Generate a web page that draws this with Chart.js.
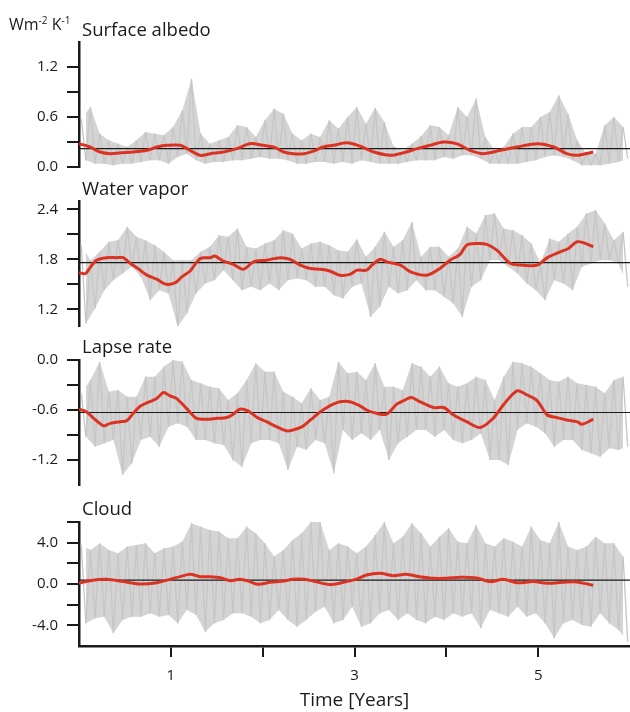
<!DOCTYPE html>
<html>
<head>
<meta charset="utf-8">
<script src="https://cdn.jsdelivr.net/npm/chart.js@4.4.1/dist/chart.umd.min.js"></script>
<style>
  html, body { margin: 0; padding: 0; background: #fff; }
  #wrap { position: relative; width: 630px; height: 712px; overflow: hidden; font-family: 'Open Sans', sans-serif; color: #1a1a1a; }
  #wrap canvas { position: absolute; left: 0; top: 0; }
  .ttl { position: absolute; left: 82px; font-size: 18.5px; line-height: 1; white-space: nowrap; }
  #unit { position: absolute; left: 9px; top: 16px; font-size: 16px; line-height: 1; white-space: nowrap; }
  #unit sup { font-size: 10px; line-height: 1; position: relative; top: -6px; vertical-align: baseline; }
</style>
</head>
<body>
<div id="wrap">
  <canvas id="c1" width="630" height="712"></canvas>
  <canvas id="c2" width="630" height="712"></canvas>
  <canvas id="c3" width="630" height="712"></canvas>
  <canvas id="c4" width="630" height="712"></canvas>
  <div id="unit">Wm<sup>-2</sup> K<sup>-1</sup></div>
  <div class="ttl" style="top:19.6px">Surface albedo</div>
  <div class="ttl" style="top:178.6px">Water vapor</div>
  <div class="ttl" style="top:336.6px">Lapse rate</div>
  <div class="ttl" style="top:498.6px">Cloud</div>
</div>
<script>
// x bins of the raw (grey) series, 0.1 year wide, 0 .. 5.9
const binT = Array.from({ length: 60 }, (_, i) => i / 10);

// Surface albedo
const albedoHi = [0.58,0.72,0.40,0.32,0.28,0.24,0.32,0.42,0.40,0.38, 0.48,0.68,1.06,0.40,0.28,0.32,0.36,0.50,0.48,0.36,
                  0.56,0.70,0.64,0.40,0.32,0.40,0.36,0.56,0.46,0.60, 0.72,0.52,0.71,0.54,0.25,0.20,0.28,0.37,0.50,0.48,
                  0.38,0.72,0.60,0.82,0.36,0.20,0.24,0.40,0.48,0.48, 0.60,0.66,0.86,0.64,0.32,0.16,0.16,0.50,0.60,0.48];
const albedoLo = [0.08,0.04,0.04,0.02,0.04,0.04,0.06,0.08,0.08,0.04, 0.12,0.16,0.08,0.04,0.06,0.06,0.08,0.08,0.10,0.12,
                  0.10,0.10,0.08,0.04,0.04,0.06,0.06,0.04,0.06,0.04, 0.08,0.06,0.04,0.04,0.04,0.06,0.08,0.08,0.08,0.12,
                  0.10,0.14,0.14,0.10,0.04,0.04,0.04,0.04,0.06,0.08, 0.12,0.14,0.12,0.08,0.02,0.02,0.02,0.04,0.06,0.10];
const albedoSmoothT = [0,0.12,0.23,0.34,0.45,0.59,0.74,0.85,0.96,1.10,1.21,1.32,1.43,1.57,1.72,1.86,2.01,2.12,2.23,2.33,2.45,
                       2.55,2.66,2.77,2.92,3.06,3.21,3.39,3.53,3.68,3.82,3.97,4.11,4.26,4.40,4.59,4.77,4.99,5.17,5.31,5.42,5.60];
const albedoSmooth = [0.28,0.24,0.18,0.16,0.17,0.18,0.20,0.24,0.26,0.26,0.20,0.14,0.16,0.18,0.22,0.28,0.26,0.24,0.18,0.16,0.16,
                      0.19,0.24,0.26,0.29,0.25,0.18,0.14,0.17,0.22,0.26,0.30,0.28,0.20,0.16,0.20,0.24,0.28,0.24,0.16,0.14,0.18];
const albedoMean = 0.22;

// Water vapor
const vaporHi = [1.97,1.79,1.89,2.01,2.03,2.19,2.07,2.03,1.97,1.89, 1.79,1.79,1.79,1.89,1.95,2.09,2.07,2.17,1.95,1.93,
                 1.99,2.03,2.15,2.11,1.93,1.99,2.01,1.97,1.91,1.89, 2.04,1.83,1.95,2.13,1.95,2.03,2.25,1.83,1.95,1.95,
                 1.83,1.93,2.19,2.11,2.33,2.35,2.17,2.15,2.09,1.99, 1.75,2.05,2.01,2.11,2.19,2.35,2.39,2.23,2.03,2.13];
const vaporLo = [1.03,1.21,1.43,1.55,1.63,1.71,1.59,1.31,1.43,1.39, 0.99,1.15,1.39,1.51,1.55,1.67,1.55,1.43,1.47,1.43,
                 1.51,1.43,1.55,1.57,1.55,1.47,1.47,1.37,1.33,1.47, 1.51,1.11,1.23,1.47,1.39,1.43,1.55,1.43,1.43,1.35,
                 1.27,1.11,1.47,1.55,1.79,1.79,1.71,1.63,1.51,1.43, 1.31,1.55,1.51,1.43,1.71,1.75,1.79,1.79,1.75,1.47];
const vaporSmoothT = [0,0.07,0.12,0.19,0.30,0.41,0.48,0.56,0.63,0.74,0.85,0.95,1.05,1.12,1.21,1.32,1.43,1.48,1.57,1.68,
                      1.79,1.90,2.04,2.19,2.30,2.41,2.52,2.63,2.73,2.84,2.95,3.03,3.13,3.19,3.28,3.35,3.50,3.61,3.79,3.93,
                      4.04,4.15,4.22,4.33,4.44,4.55,4.70,4.84,4.99,5.10,5.24,5.33,5.42,5.49,5.60];
const vaporSmooth = [1.64,1.63,1.70,1.79,1.82,1.82,1.82,1.75,1.70,1.61,1.56,1.50,1.52,1.59,1.66,1.81,1.82,1.84,1.78,1.74,
                     1.68,1.77,1.79,1.82,1.80,1.73,1.69,1.68,1.66,1.61,1.62,1.67,1.67,1.73,1.80,1.77,1.73,1.65,1.61,1.69,
                     1.79,1.86,1.97,1.99,1.98,1.91,1.75,1.73,1.73,1.82,1.89,1.93,2.01,2.00,1.95];
const vaporMean = 1.76;

// Lapse rate
const lapseHi = [-0.40,-0.24,-0.02,-0.38,-0.36,-0.44,-0.44,-0.20,-0.20,-0.08, 0.00,-0.02,-0.24,-0.28,-0.32,-0.34,-0.48,-0.40,-0.24,-0.04,
                 -0.14,-0.14,-0.38,-0.44,-0.52,-0.34,-0.48,-0.44,-0.02,-0.16, -0.14,-0.24,-0.04,-0.32,-0.32,-0.36,-0.04,-0.08,-0.20,-0.08,
                 -0.28,-0.32,-0.28,-0.20,-0.24,-0.48,-0.20,-0.02,-0.04,-0.08, -0.16,-0.24,-0.26,-0.20,-0.28,-0.30,-0.32,-0.40,-0.24,-0.20];
const lapseLo = [-0.92,-1.04,-1.00,-0.96,-1.38,-1.24,-0.96,-0.92,-1.04,-0.80, -0.76,-0.80,-0.96,-0.96,-1.00,-1.02,-1.20,-1.28,-1.00,-0.96,
                 -0.96,-1.00,-1.32,-1.04,-1.08,-0.96,-1.00,-1.36,-0.84,-0.96, -0.88,-0.96,-0.84,-1.20,-1.00,-0.92,-0.84,-0.84,-0.92,-0.84,
                 -0.96,-1.00,-0.96,-0.88,-1.20,-1.20,-1.26,-0.84,-0.76,-0.80, -0.88,-1.04,-0.96,-0.96,-1.08,-1.12,-1.16,-1.06,-1.08,-1.04];
const lapseSmoothT = [0,0.08,0.17,0.27,0.34,0.45,0.52,0.59,0.66,0.77,0.85,0.92,0.99,1.06,1.17,1.28,1.39,1.50,1.61,1.68,
                      1.75,1.84,1.94,2.04,2.15,2.26,2.33,2.43,2.53,2.63,2.70,2.77,2.84,2.95,3.06,3.13,3.24,3.35,3.46,3.53,
                      3.62,3.71,3.86,3.97,4.08,4.22,4.37,4.51,4.62,4.77,4.88,4.99,5.10,5.20,5.31,5.42,5.48,5.60];
const lapseSmooth = [-0.59,-0.62,-0.71,-0.79,-0.76,-0.74,-0.73,-0.64,-0.56,-0.50,-0.46,-0.39,-0.43,-0.46,-0.58,-0.70,-0.71,-0.70,-0.69,-0.65,
                     -0.59,-0.61,-0.69,-0.74,-0.80,-0.85,-0.84,-0.80,-0.71,-0.62,-0.57,-0.53,-0.50,-0.50,-0.55,-0.60,-0.64,-0.65,-0.53,-0.49,
                     -0.45,-0.50,-0.57,-0.57,-0.66,-0.74,-0.81,-0.70,-0.54,-0.37,-0.42,-0.49,-0.66,-0.69,-0.72,-0.74,-0.77,-0.71];
const lapseMean = -0.63;

// Cloud
const cloudHi = [3.78,3.29,3.94,3.29,2.97,3.62,3.78,3.94,2.97,3.45, 3.62,4.10,5.87,5.55,5.23,5.07,4.42,4.42,5.55,4.91,
                 3.94,2.65,3.29,4.26,4.91,6.00,6.00,3.29,3.94,3.62, 2.97,3.62,4.75,6.00,3.94,4.58,5.87,4.91,3.62,4.58,
                 5.39,4.10,3.94,5.71,3.94,3.62,4.42,4.10,3.62,5.55, 4.26,3.94,6.00,3.62,3.29,3.62,4.58,3.94,3.94,2.65];
const cloudLo = [-3.81,-3.32,-3.16,-4.77,-3.48,-3.16,-3.16,-2.84,-3.16,-3.00, -3.81,-2.52,-3.00,-4.61,-3.81,-3.48,-2.84,-2.84,-3.16,-3.81,
                 -3.48,-2.52,-3.48,-4.13,-3.48,-2.68,-2.19,-3.81,-3.48,-2.19, -4.13,-3.81,-2.84,-2.52,-3.48,-2.84,-3.48,-3.81,-3.16,-3.48,
                 -2.84,-3.16,-2.84,-4.29,-2.52,-2.84,-3.16,-2.19,-3.16,-2.84, -3.81,-5.26,-3.81,-3.48,-3.97,-4.13,-2.84,-3.81,-4.45,-5.58];
const cloudSmoothT = [0,0.12,0.30,0.48,0.66,0.85,0.99,1.10,1.21,1.32,1.43,1.54,1.65,1.75,1.86,1.95,2.08,2.23,2.33,2.45,
                      2.55,2.73,2.88,3.03,3.13,3.28,3.42,3.56,3.71,3.86,4.00,4.15,4.33,4.48,4.62,4.77,4.95,5.10,5.27,5.42,5.60];
const cloudSmooth = [0.07,0.32,0.45,0.23,0.00,0.13,0.45,0.71,0.94,0.71,0.71,0.61,0.32,0.45,0.23,-0.03,0.16,0.29,0.45,0.45,
                     0.29,-0.06,0.16,0.49,0.87,1.03,0.81,0.94,0.71,0.55,0.55,0.65,0.58,0.23,0.45,0.13,0.23,0.07,0.16,0.20,-0.13];
const cloudMean = 0.37;

// axis ticks
const albedoTicks = [0, 0.3, 0.6, 0.9, 1.2], albedoLabels = [0, 0.6, 1.2];
const vaporTicks = [1.2, 1.5, 1.8, 2.1, 2.4], vaporLabels = [1.2, 1.8, 2.4];
const lapseTicks = [-1.2, -0.9, -0.6, -0.3, 0], lapseLabels = [-1.2, -0.6, 0];
const cloudTicks = [-4, -2, 0, 2, 4, 6], cloudLabels = [-4, 0, 4];
const yearTicks = [1, 2, 3, 4, 5], yearLabels = [1, 3, 5];

const GREY = '#c6c6c6', GREY_FILL = '#d4d4d4', RED = '#dc3222', INK = '#1a1a1a';
Chart.defaults.font.family = "'Open Sans', sans-serif";
Chart.defaults.color = INK;

function noisePoints(hi, lo) {
  const pts = [];
  hi.forEach((h, i) => {
    pts.push({ x: binT[i] + 0.025, y: h });
    pts.push({ x: binT[i] + 0.075, y: lo[i] });
  });
  return pts;
}

function makePanel(id, p) {
  const last = !!p.last;
  const xScale = {
    type: 'linear', min: 0, max: 6, display: last,
    afterBuildTicks: s => { s.ticks = yearTicks.map(v => ({ value: v })); },
    grid: { drawOnChartArea: false, tickLength: 11, lineWidth: 2, color: INK },
    border: { color: INK, width: 2.5 },
    ticks: { padding: 10, font: { size: 15 }, color: INK, maxRotation: 0,
             callback: v => yearLabels.includes(v) ? String(v) : '' },
    title: { display: true, text: 'Time [Years]', font: { size: 19 }, color: INK, padding: { top: 0, bottom: 0 } }
  };
  if (last) xScale.afterFit = s => { s.height = 66; };

  new Chart(document.getElementById(id), {
    type: 'line',
    data: {
      datasets: [
        { data: p.smoothT.map((t, i) => ({ x: t, y: p.smooth[i] })), borderColor: RED, borderWidth: 3,
          pointRadius: 0, tension: 0.3, order: 0 },
        { data: [{ x: 0, y: p.mean }, { x: 6, y: p.mean }], borderColor: INK, borderWidth: 1.2,
          pointRadius: 0, order: 1 },
        { data: noisePoints(p.hi, p.lo), borderColor: GREY, borderWidth: 1.3, borderJoinStyle: 'bevel',
          pointRadius: 0, tension: 0, order: 2 },
        // envelope of the raw series, filled between upper and lower edges
        { data: p.hi.map((h, i) => ({ x: binT[i] + 0.025, y: h })), borderWidth: 0, pointRadius: 0,
          fill: '+1', backgroundColor: GREY_FILL, order: 3 },
        { data: p.lo.map((l, i) => ({ x: binT[i] + 0.075, y: l })), borderWidth: 0, pointRadius: 0,
          fill: false, order: 4 }
      ]
    },
    options: {
      responsive: false,
      animation: false,
      events: [],
      layout: { padding: { top: p.top, bottom: last ? 0 : 712 - p.bottom, left: 0, right: 0 } },
      plugins: { legend: { display: false }, tooltip: { enabled: false } },
      scales: {
        x: xScale,
        y: {
          min: p.min, max: p.max,
          afterBuildTicks: s => { s.ticks = p.ticks.map(v => ({ value: v })); },
          afterFit: s => { s.width = 79; },
          grid: { drawOnChartArea: false, tickLength: 12, lineWidth: 2, color: INK },
          border: { color: INK, width: 2.5 },
          ticks: { padding: 9, font: { size: 15 }, color: INK,
                   callback: v => p.labels.includes(v) ? v.toFixed(1) : '' }
        }
      }
    }
  });
}

makePanel('c1', { top: 42, bottom: 167, min: 0, max: 1.5, ticks: albedoTicks, labels: albedoLabels,
  hi: albedoHi, lo: albedoLo, smoothT: albedoSmoothT, smooth: albedoSmooth, mean: albedoMean });
makePanel('c2', { top: 201, bottom: 326, min: 1.0, max: 2.5, ticks: vaporTicks, labels: vaporLabels,
  hi: vaporHi, lo: vaporLo, smoothT: vaporSmoothT, smooth: vaporSmooth, mean: vaporMean });
makePanel('c3', { top: 360, bottom: 485, min: -1.5, max: 0, ticks: lapseTicks, labels: lapseLabels,
  hi: lapseHi, lo: lapseLo, smoothT: lapseSmoothT, smooth: lapseSmooth, mean: lapseMean });
makePanel('c4', { top: 522, bottom: 646, min: -6, max: 6, ticks: cloudTicks, labels: cloudLabels,
  hi: cloudHi, lo: cloudLo, smoothT: cloudSmoothT, smooth: cloudSmooth, mean: cloudMean, last: true });
</script>
</body>
</html>
